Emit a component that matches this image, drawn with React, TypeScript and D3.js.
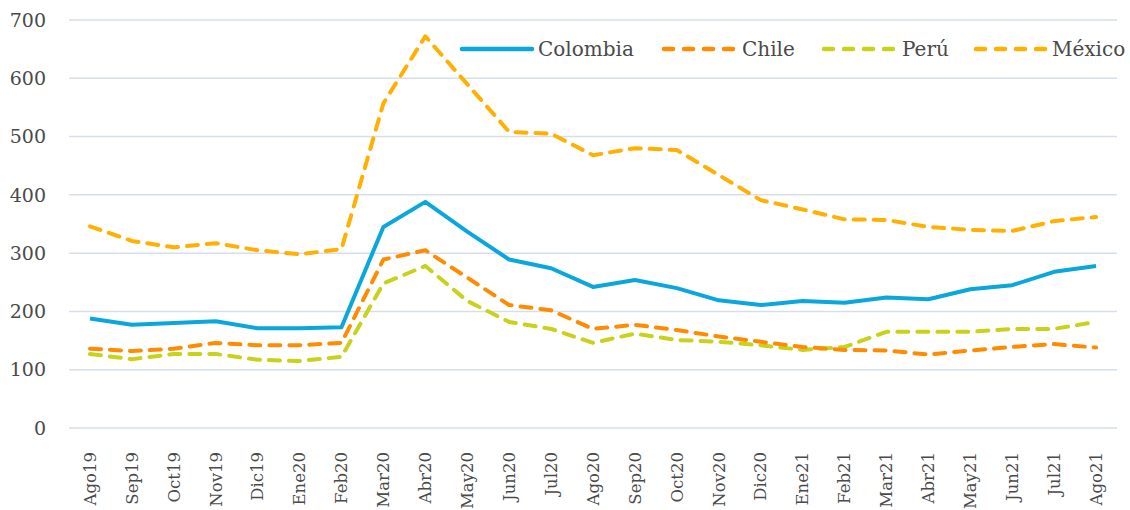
import React from "react";
import * as d3 from "d3";

const months = ["Ago19","Sep19","Oct19","Nov19","Dic19","Ene20","Feb20","Mar20","Abr20","May20","Jun20","Jul20","Ago20","Sep20","Oct20","Nov20","Dic20","Ene21","Feb21","Mar21","Abr21","May21","Jun21","Jul21","Ago21"];
const colombia = [188,177,180,183,171,171,173,345,388,337,289,274,242,254,240,219,211,218,215,224,221,238,245,268,278];
const chile = [136,132,136,146,142,142,146,289,305,258,211,202,170,177,168,157,148,139,134,133,126,133,139,144,138];
const peru = [127,118,127,127,117,115,122,248,278,218,182,170,146,162,151,148,142,134,139,165,165,165,170,170,182];
const mexico = [346,321,310,317,305,298,307,557,672,590,508,505,468,480,477,434,391,375,358,357,345,340,338,355,362];
const yTicks = [0,100,200,300,400,500,600,700];

const seriesNames = ["Colombia","Chile","Perú","México"];
const seriesColors = ["#0aa7dd","#ff8c00","#c9d21b","#ffb000"];
const seriesDash = [null,"11 9","11 9","11 9"];
const seriesData = [colombia, chile, peru, mexico];

const W = 1130, H = 510;
const left = 69, right = 1117, top = 20, bottom = 428;
const FONT = "'DejaVu Serif', serif";

export default function App() {
  const x = d3.scaleBand<string>().domain(months).range([left, right]);
  const y = d3.scaleLinear().domain([0, 700]).range([bottom, top]);
  const cx = (m: string) => (x(m) as number) + x.bandwidth() / 2;
  const line = d3.line<number>().x((_, i) => cx(months[i])).y((v) => y(v));

  const legendItems = [
    { lx: 462, tx: 538 },
    { lx: 664, tx: 742 },
    { lx: 824, tx: 902 },
    { lx: 976, tx: 1052 },
  ];
  const drawOrder = [3, 2, 1, 0];

  return (
    <svg width={W} height={H} style={{ position: "absolute", left: 0, top: 0, background: "#fff" }}>
      {yTicks.map((t) => (
        <g key={t}>
          <line x1={left} x2={right} y1={y(t)} y2={y(t)} stroke="#d6deeb" strokeWidth={1.5} />
          <text x={46} y={y(t)} dy="0.35em" textAnchor="end" fontFamily={FONT} fontSize={19} fill="#4a4a4a">{t}</text>
        </g>
      ))}
      {months.map((m) => (
        <text key={m} transform={`translate(${cx(m)},452) rotate(-90)`} textAnchor="end" dy="0.35em" fontFamily={FONT} fontSize={16.5} fill="#4a4a4a">{m}</text>
      ))}
      {drawOrder.map((i) => (
        <path key={seriesNames[i]} d={line(seriesData[i]) || ""} fill="none" stroke={seriesColors[i]} strokeWidth={4}
          strokeDasharray={seriesDash[i] || undefined} strokeLinecap={seriesDash[i] ? "round" : "butt"} strokeLinejoin="round" />
      ))}
      <rect x={455} y={33} width={675} height={32} fill="#fff" />
      {seriesNames.map((n, i) => (
        <g key={n}>
          <line x1={legendItems[i].lx} x2={legendItems[i].lx + 70} y1={49} y2={49} stroke={seriesColors[i]} strokeWidth={4.5}
            strokeDasharray={seriesDash[i] ? "9 11" : undefined} strokeLinecap="round" />
          <text x={legendItems[i].tx} y={49} dy="0.35em" fontFamily={FONT} fontSize={20} fill="#4a4a4a">{n}</text>
        </g>
      ))}
    </svg>
  );
}
